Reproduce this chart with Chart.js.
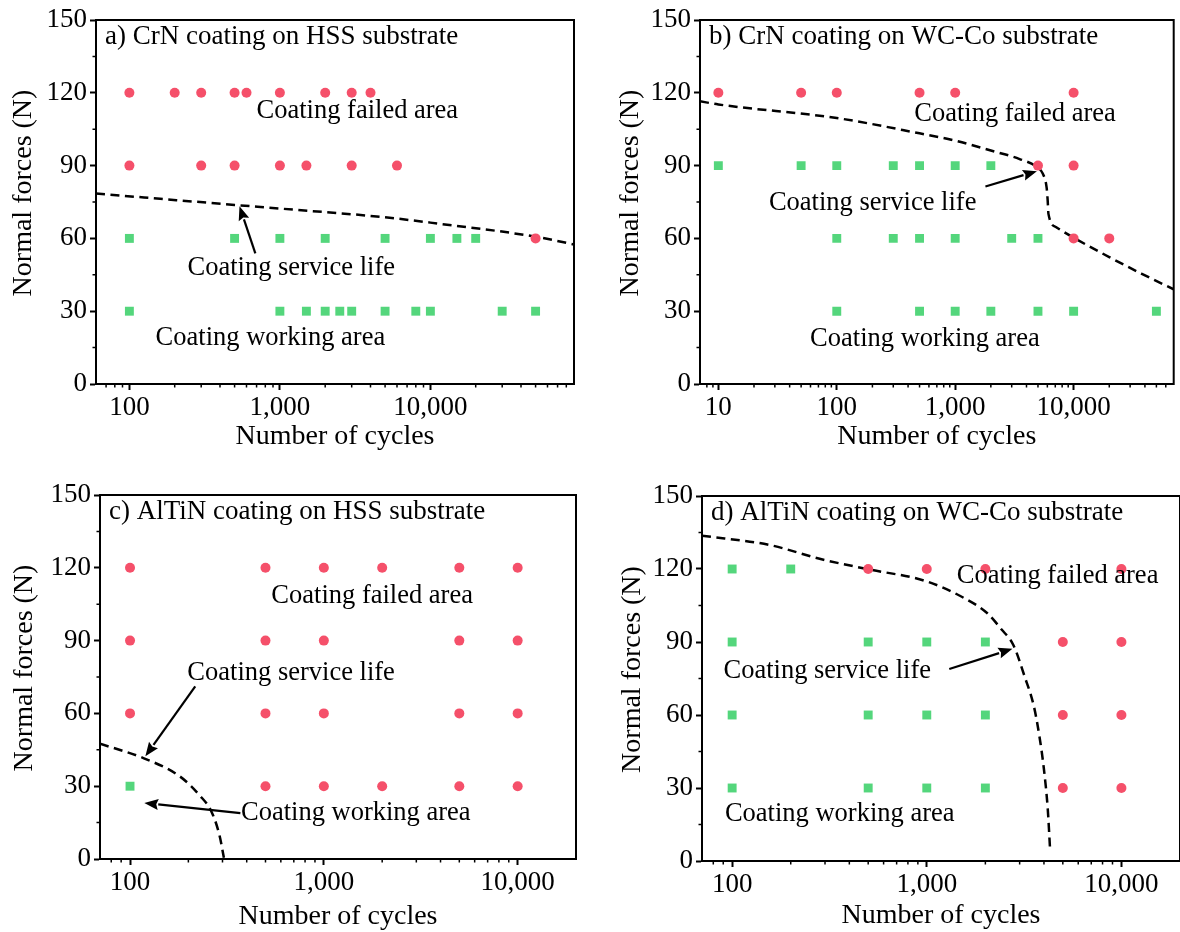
<!DOCTYPE html>
<html><head><meta charset="utf-8">
<script src="https://cdn.jsdelivr.net/npm/chart.js@4.4.1/dist/chart.umd.min.js"></script>
<style>
html,body{margin:0;padding:0;background:#fff;overflow:hidden;width:1180px;height:932px;position:relative;}
.p{position:absolute;}
</style></head><body>
<canvas id="ca" class="p" style="left:0;top:0" width="590" height="475"></canvas>
<canvas id="cb" class="p" style="left:590px;top:0" width="590" height="475"></canvas>
<canvas id="cc" class="p" style="left:0;top:470px" width="590" height="475"></canvas>
<canvas id="cd" class="p" style="left:590px;top:470px" width="600" height="475"></canvas>
<script>
// ---------- data ----------
const yTicks = [0, 30, 60, 90, 120, 150];
const xTitle = 'Number of cycles';
const yTitle = 'Normal forces (N)';

// a) CrN on HSS
const aFailX = [100, 200, 300, 500, 600, 1000, 2000, 3000, 4000, 100, 300, 500, 1000, 1500, 3000, 6000, 50000];
const aFailY = [120, 120, 120, 120, 120, 120, 120, 120, 120, 90, 90, 90, 90, 90, 90, 90, 60];
const aWorkX = [100, 500, 1000, 2000, 5000, 10000, 15000, 20000, 100, 1000, 1500, 2000, 2500, 3000, 5000, 8000, 10000, 30000, 50000];
const aWorkY = [60, 60, 60, 60, 60, 60, 60, 60, 30, 30, 30, 30, 30, 30, 30, 30, 30, 30, 30];
const aLineX = [60, 500, 1000, 5000, 10000, 50000, 90000];
const aLineY = [78.5, 73.8, 72.3, 68.7, 66.5, 60.7, 57.5];

// b) CrN on WC-Co
const bFailX = [10, 50, 100, 500, 1000, 10000, 5000, 10000, 10000, 20000];
const bFailY = [120, 120, 120, 120, 120, 120, 90, 90, 60, 60];
const bWorkX = [10, 50, 100, 300, 500, 1000, 2000, 100, 300, 500, 1000, 3000, 5000, 100, 500, 1000, 2000, 5000, 10000, 50000];
const bWorkY = [90, 90, 90, 90, 90, 90, 90, 60, 60, 60, 60, 60, 60, 30, 30, 30, 30, 30, 30, 30];
const bLineX = [7, 10, 100, 500, 1000, 2000, 3500, 4930, 5500, 5910, 6040, 6130, 7080, 10000, 20000, 37300, 70000];
const bLineY = [116.5, 115.2, 109.6, 103.3, 100.3, 96.2, 92.7, 89.3, 86.6, 81.1, 75.6, 70.1, 64.7, 60.3, 52.3, 45.5, 39.0];

// c) AlTiN on HSS
const cFailX = [100, 500, 1000, 2000, 5000, 10000, 100, 500, 1000, 5000, 10000, 100, 500, 1000, 5000, 10000, 500, 1000, 2000, 5000, 10000];
const cFailY = [120, 120, 120, 120, 120, 120, 90, 90, 90, 90, 90, 60, 60, 60, 60, 60, 30, 30, 30, 30, 30];
const cWorkX = [100];
const cWorkY = [30];
const cLineX = [70, 118, 181, 227, 265, 290, 305];
const cLineY = [47.5, 41.5, 34, 26.5, 19, 9.5, 0.5];

// d) AlTiN on WC-Co
const dFailX = [500, 1000, 2000, 10000, 5000, 10000, 5000, 10000, 5000, 10000];
const dFailY = [120, 120, 120, 120, 90, 90, 60, 60, 30, 30];
const dWorkX = [100, 200, 100, 500, 1000, 2000, 100, 500, 1000, 2000, 100, 500, 1000, 2000];
const dWorkY = [120, 120, 90, 90, 90, 90, 60, 60, 60, 60, 30, 30, 30, 30];
const dLineX = [70, 155, 288, 500, 1000, 1560, 2040, 2430, 2780, 3180, 3550, 3790, 4000, 4185, 4300];
const dLineY = [133.7, 129.9, 124, 119.9, 114.9, 108, 101.9, 95, 88.9, 75.9, 63.6, 51.3, 37.6, 21.2, 4.8];

const panelLabels = ['a) CrN coating on HSS substrate', 'b) CrN coating on WC-Co substrate',
                     'c) AlTiN coating on HSS substrate', 'd) AlTiN coating on WC-Co substrate'];
const noteFailed = 'Coating failed area';
const noteService = 'Coating service life';
const noteWorking = 'Coating working area';

// ---------- styling ----------
const FONT = '"Liberation Serif", "Times New Roman", Times, serif';
const RED = 'rgb(245,80,106)';
const GREEN = 'rgb(84,214,124)';

function pts(xs, ys) { return xs.map((x, i) => ({x: x, y: ys[i]})); }

const overlay = {
  id: 'overlay',
  afterDraw(chart, args, o) {
    const ctx = chart.ctx, ca = chart.chartArea;
    const xs = chart.scales.x, ys = chart.scales.y;
    ctx.save();
    // frame
    ctx.strokeStyle = '#000'; ctx.lineWidth = 2;
    ctx.strokeRect(ca.left, ca.top, ca.right - ca.left, ca.bottom - ca.top);
    // minor ticks
    ctx.lineWidth = 1.5;
    ctx.beginPath();
    for (let v = 15; v < 150; v += 30) {
      const y = ys.getPixelForValue(v);
      ctx.moveTo(ca.left - 3.5, y); ctx.lineTo(ca.left, y);
    }
    for (let e = 0; e <= 5; e++) {
      for (let k = 2; k <= 9; k++) {
        const v = k * Math.pow(10, e);
        if (v <= xs.min || v >= xs.max) continue;
        const x = xs.getPixelForValue(v);
        ctx.moveTo(x, ca.bottom); ctx.lineTo(x, ca.bottom + 3.5);
      }
    }
    ctx.stroke();
    ctx.fillStyle = '#000';
    // y axis title
    ctx.save();
    ctx.font = '28px ' + FONT;
    ctx.textAlign = 'center'; ctx.textBaseline = 'middle';
    ctx.translate(o.ytX, (ca.top + ca.bottom) / 2 - 9);
    ctx.rotate(-Math.PI / 2);
    ctx.fillText(yTitle, 0, 0);
    ctx.restore();
    // panel label
    ctx.font = '27px ' + FONT;
    ctx.textAlign = 'left'; ctx.textBaseline = 'middle';
    ctx.fillText(o.label, ca.left + 9, ca.top + 17);
    // notes
    ctx.font = '26.5px ' + FONT;
    ctx.textAlign = 'center';
    o.notes.forEach(n => {
      ctx.fillText(n.t, xs.getPixelForValue(n.x), ys.getPixelForValue(n.y));
    });
    // arrows
    ctx.lineWidth = 2.2;
    o.arrows.forEach(a => {
      const x1 = xs.getPixelForValue(a[0]), y1 = ys.getPixelForValue(a[1]);
      const x2 = xs.getPixelForValue(a[2]), y2 = ys.getPixelForValue(a[3]);
      const ang = Math.atan2(y2 - y1, x2 - x1);
      const L = 14, W = 5.5;
      const bx = x2 - L * Math.cos(ang), by = y2 - L * Math.sin(ang);
      ctx.beginPath(); ctx.moveTo(x1, y1); ctx.lineTo(bx, by); ctx.stroke();
      ctx.beginPath();
      ctx.moveTo(x2, y2);
      ctx.lineTo(bx + W * Math.sin(ang), by - W * Math.cos(ang));
      ctx.lineTo(bx + 2 * Math.cos(ang), by + 2 * Math.sin(ang));
      ctx.lineTo(bx - W * Math.sin(ang), by + W * Math.cos(ang));
      ctx.closePath(); ctx.fill();
    });
    ctx.restore();
  }
};

function makeChart(id, p) {
  const decades = [1, 10, 100, 1000, 10000, 100000].filter(v => v >= p.xMin && v <= p.xMax);
  return new Chart(document.getElementById(id), {
    type: 'scatter',
    data: {
      datasets: [
        {data: pts(p.failX, p.failY), pointStyle: 'circle', pointRadius: 5, pointBorderWidth: 0,
         backgroundColor: RED, borderColor: RED},
        {data: pts(p.workX, p.workY), pointStyle: 'rect', pointRadius: 6.3, pointBorderWidth: 0,
         backgroundColor: GREEN, borderColor: GREEN},
        {data: pts(p.lineX, p.lineY), showLine: true, pointRadius: 0, borderColor: '#000',
         borderWidth: 2.5, borderDash: [9, 5.5], cubicInterpolationMode: 'monotone', fill: false}
      ]
    },
    options: {
      responsive: false, animation: false, devicePixelRatio: 1,
      layout: {padding: {left: 0, right: p.padR, top: p.padT, bottom: 0}},
      plugins: {legend: {display: false}, tooltip: {enabled: false},
                overlay: {label: p.label, notes: p.notes, arrows: p.arrows, ytX: p.ytX}},
      scales: {
        x: {
          type: 'logarithmic', min: p.xMin, max: p.xMax,
          afterBuildTicks: s => { s.ticks = decades.map(v => ({value: v})); },
          afterFit: s => { s.height = p.xHeight; },
          ticks: {color: '#000', font: {family: FONT, size: 27}, padding: 2, autoSkip: false, maxRotation: 0,
                  callback: v => Number(v).toLocaleString('en-US')},
          grid: {drawOnChartArea: false, drawTicks: true, tickLength: 6, tickWidth: 2, tickColor: '#000'},
          border: {display: true, color: '#000', width: 2},
          title: {display: true, text: xTitle, color: '#000', font: {family: FONT, size: 28},
                  padding: {top: 0, bottom: p.xtPad}}
        },
        y: {
          type: 'linear', min: 0, max: 150,
          afterBuildTicks: s => { s.ticks = yTicks.map(v => ({value: v})); },
          afterFit: s => { s.width = p.yWidth; },
          ticks: {color: '#000', font: {family: FONT, size: 27}, padding: 3},
          grid: {drawOnChartArea: false, drawTicks: true, tickLength: 6, tickWidth: 2, tickColor: '#000'},
          border: {display: true, color: '#000', width: 2},
          title: {display: false, text: yTitle}
        }
      }
    },
    plugins: [overlay]
  });
}

makeChart('ca', {
  failX: aFailX, failY: aFailY, workX: aWorkX, workY: aWorkY, lineX: aLineX, lineY: aLineY,
  xMin: 60, xMax: 90000, yWidth: 96, xHeight: 91, padR: 16, padT: 20, ytX: 24, xtPad: 22,
  label: panelLabels[0],
  notes: [{t: noteFailed, x: 3270, y: 112.5}, {t: noteService, x: 1190, y: 47.9}, {t: noteWorking, x: 865, y: 18.8}],
  arrows: [[687, 53.8, 539, 73.3]]
});
makeChart('cb', {
  failX: bFailX, failY: bFailY, workX: bWorkX, workY: bWorkY, lineX: bLineX, lineY: bLineY,
  xMin: 7, xMax: 70000, yWidth: 110, xHeight: 91, padR: 3, padT: 20, ytX: 40.5, xtPad: 22,
  label: panelLabels[1],
  notes: [{t: noteFailed, x: 3200, y: 111.2}, {t: noteService, x: 201, y: 74.5}, {t: noteWorking, x: 555, y: 18.4}],
  arrows: [[1800, 81.4, 4900, 87.7]]
});
makeChart('cc', {
  failX: cFailX, failY: cFailY, workX: cWorkX, workY: cWorkY, lineX: cLineX, lineY: cLineY,
  xMin: 70, xMax: 20000, yWidth: 100, xHeight: 86, padR: 14, padT: 25, ytX: 25, xtPad: 12,
  label: panelLabels[2],
  notes: [{t: noteFailed, x: 1775, y: 108.4}, {t: noteService, x: 678, y: 76.8}, {t: noteWorking, x: 1462, y: 18.9}],
  arrows: [[217, 71.1, 120, 42.3], [371, 18.9, 118.5, 23.1]]
});
makeChart('cd', {
  failX: dFailX, failY: dFailY, workX: dWorkX, workY: dWorkY, lineX: dLineX, lineY: dLineY,
  xMin: 70, xMax: 20000, yWidth: 112, xHeight: 84, padR: 10, padT: 26, ytX: 42.5, xtPad: 13,
  label: panelLabels[3],
  notes: [{t: noteFailed, x: 4700, y: 116.9}, {t: noteService, x: 308, y: 77.9}, {t: noteWorking, x: 357, y: 19.1}],
  arrows: [[1305, 78.9, 2755, 87.2]]
});
</script>
</body></html>
